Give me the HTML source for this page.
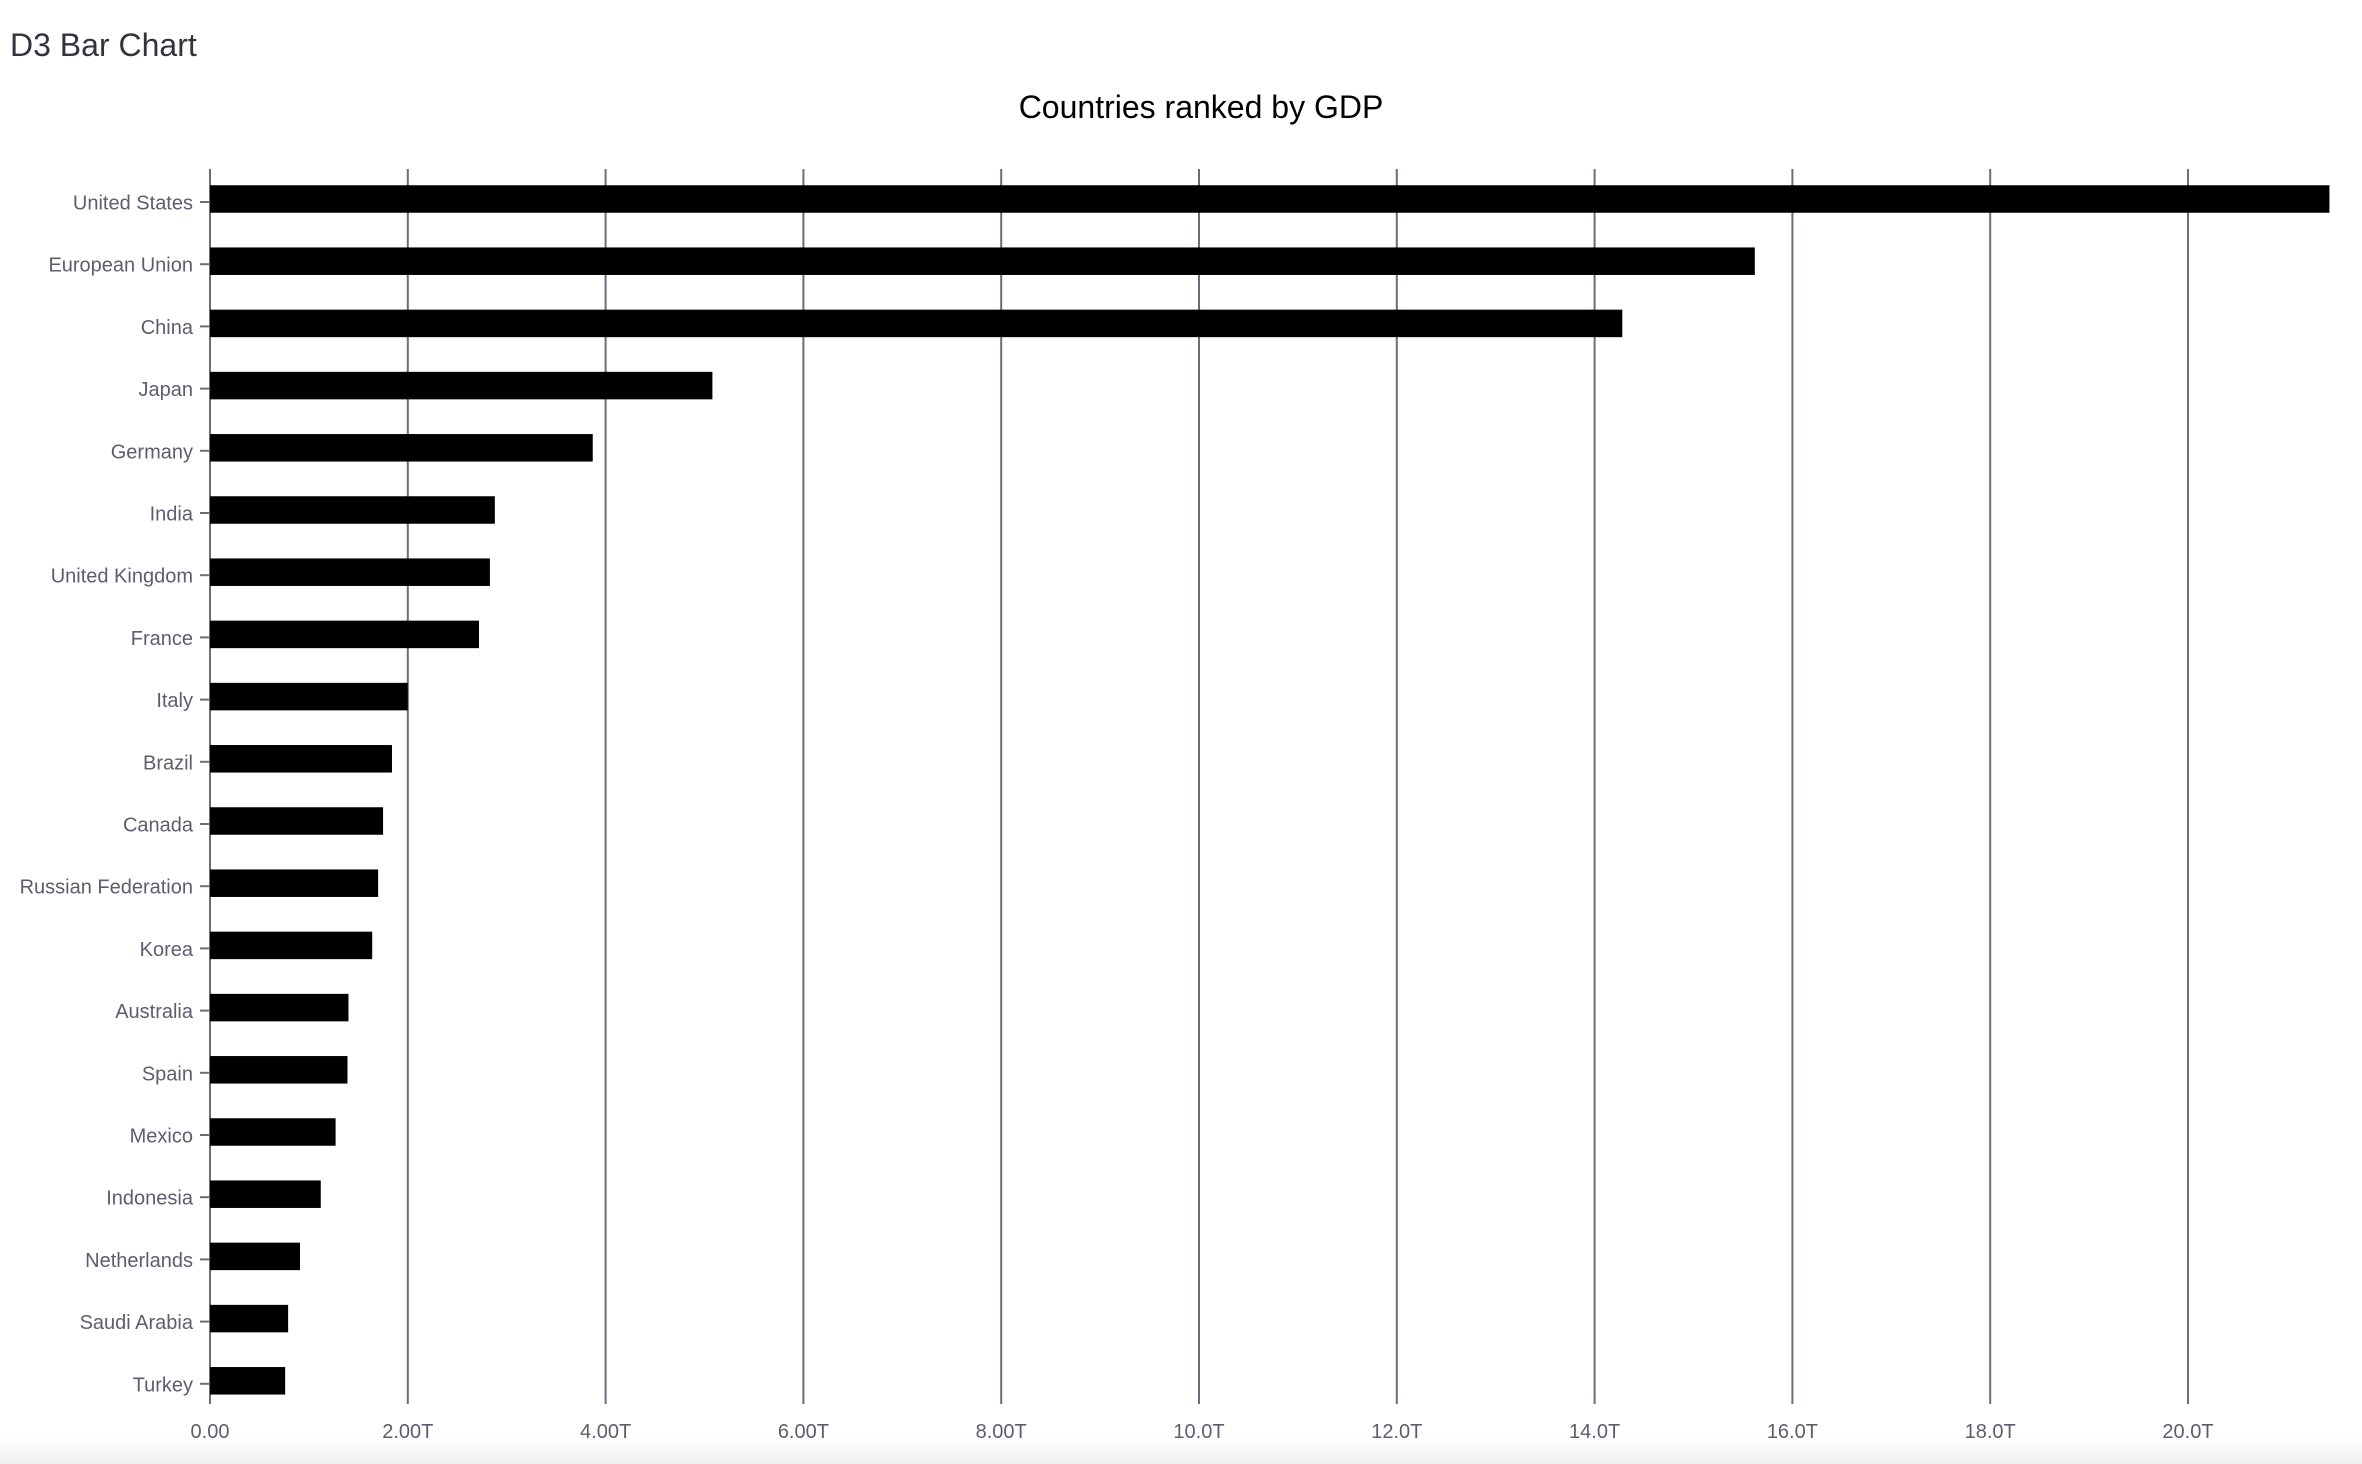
<!DOCTYPE html>
<html><head><meta charset="utf-8"><style>
html,body{margin:0;padding:0;background:#fff;width:2362px;height:1464px;overflow:hidden;}
#page-title{position:absolute;left:10px;top:27px;font:32px "Liberation Sans",sans-serif;color:#333340;margin:0;}
#fade{position:absolute;left:0;top:1436px;width:2362px;height:28px;background:linear-gradient(#fff,#efeff1);}
svg{position:absolute;left:0;top:0;}
</style></head><body>
<div id="page-title">D3 Bar Chart</div>
<div id="fade"></div>
<svg id="chart" width="2362" height="1464"></svg>
<script>
const countries = ["United States","European Union","China","Japan","Germany","India","United Kingdom","France","Italy","Brazil","Canada","Russian Federation","Korea","Australia","Spain","Mexico","Indonesia","Netherlands","Saudi Arabia","Turkey"];
const gdpTrillions = [21.43,15.62,14.28,5.08,3.87,2.88,2.83,2.72,2.00,1.84,1.75,1.70,1.64,1.40,1.39,1.27,1.12,0.91,0.79,0.76];
const tickValues = [0,2,4,6,8,10,12,14,16,18,20];
const tickLabels = ["0.00","2.00T","4.00T","6.00T","8.00T","10.0T","12.0T","14.0T","16.0T","18.0T","20.0T"];

const NS="http://www.w3.org/2000/svg";
const svg=document.getElementById('chart');
const x0=210, pxPerT=98.9, gridTop=169, axisBottom=1404;
const firstCenter=199, step=62.2, barH=27.5;
const xScale=v=>x0+v*pxPerT;
const yCenter=i=>firstCenter+i*step;
function mk(tag,attrs){const e=document.createElementNS(NS,tag);for(const k in attrs)e.setAttribute(k,attrs[k]);svg.appendChild(e);return e;}

const t=mk('text',{x:1201,y:118,'text-anchor':'middle','font-family':'Liberation Sans, sans-serif','font-size':32,fill:'#000'});
t.textContent='Countries ranked by GDP';



tickValues.forEach((v,i)=>{
  const gx=xScale(v);
  const g=mk('line',{x1:gx,x2:gx,y1:gridTop,y2:axisBottom,stroke:'#6c6c7c','stroke-width':2});
  
  
  const l=mk('text',{x:gx,y:1438,'text-anchor':'middle','font-family':'Liberation Sans, sans-serif','font-size':20,fill:'#5d5d6e'});
  l.textContent=tickLabels[i];
  
  
});

countries.forEach((c,i)=>{
  const cy=yCenter(i);
  const tk=mk('line',{x1:x0-10,x2:x0,y1:cy+3,y2:cy+3,stroke:'#6c6c7c','stroke-width':2});
  
  
  const lb=mk('text',{x:x0-17,y:cy+10.5,'text-anchor':'end','font-family':'Liberation Sans, sans-serif','font-size':20,fill:'#5d5d6e'});
  lb.textContent=c;
  
  
  const b=mk('rect',{x:x0,y:cy-barH/2,width:xScale(gdpTrillions[i])-x0,height:barH,fill:'#000'});
  
  
});
</script>
</body></html>
